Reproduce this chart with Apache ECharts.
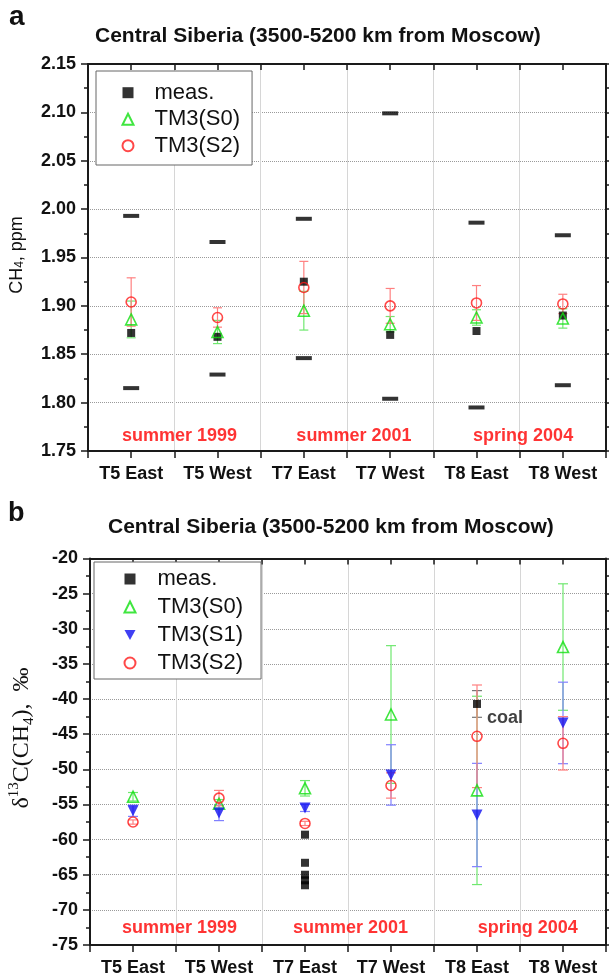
<!DOCTYPE html>
<html><head><meta charset="utf-8">
<script src="https://cdn.jsdelivr.net/npm/echarts@6/dist/echarts.min.js"></script>
<style>html,body{margin:0;padding:0;background:#fff}#c{width:609px;height:979px}</style>
</head><body><div id="c"></div>
<script>
// ---------- data ----------
const categories = ['T5 East', 'T5 West', 'T7 East', 'T7 West', 'T8 East', 'T8 West'];
const seasons = ['summer 1999', 'summer 2001', 'spring 2004'];
const seasonXa = [1.56, 3.58, 5.54];
const seasonYa = 1.7653;
const seasonXb = [1.54, 3.53, 5.59];
const seasonYb = -72.6;
const titleText = 'Central Siberia (3500-5200 km from Moscow)';

// panel a: CH4, ppm
const ch4Ticks = { min: 1.75, max: 2.15, interval: 0.05 };
const ch4Meas = [1.872, 1.868, 1.925, 1.870, 1.874, 1.890];
const ch4S0 = [1.886, 1.873, 1.895, 1.881, 1.888, 1.887];
const ch4S0Err = [0.019, 0.012, 0.020, 0.008, 0.008, 0.010];
const ch4S2 = [1.904, 1.888, 1.919, 1.900, 1.903, 1.902];
const ch4S2Err = [0.025, 0.010, 0.027, 0.018, 0.018, 0.010];
const ch4Max = [1.993, 1.966, 1.990, 2.099, 1.986, 1.973];
const ch4Min = [1.815, 1.829, 1.846, 1.804, 1.795, 1.818];

// panel b: d13C(CH4), permil
const d13Ticks = { min: -75, max: -20, interval: 5 };
const d13MeasCat = [3, 3, 3, 3, 3, 5];
const d13MeasVal = [-59.3, -63.3, -65.0, -65.8, -66.5, -40.7];
const d13MeasErr = [0, 0, 0, 0, 0, 1.9];
const d13S0 = [-53.9, -54.9, -52.7, -42.2, -53.0, -32.6];
const d13S0Err = [0.6, 0.6, 1.1, 9.8, 13.4, 9.0];
const d13S1 = [-55.9, -56.2, -55.5, -50.8, -56.5, -43.4];
const d13S1Err = [0.8, 1.1, 0.5, 4.3, 7.35, 5.8];
const d13S2 = [-57.5, -54.1, -57.7, -52.3, -45.3, -46.3];
const d13S2Err = [0.3, 1.1, 0.3, 1.8, 7.3, 3.8];

// ---------- styling ----------
const FONT = '"Liberation Sans", Arial, Helvetica, sans-serif';
const SERIF = '"Liberation Serif", "Times New Roman", serif';
const AX = '#1a1a1a';
const GREEN = '#10e010', RED = '#ff1a1a', BLUE = '#1010f0';
const GREEN_E = '#70e870', RED_E = '#ff8080', BLUE_E = '#8080ff', BLACK_E = '#777';
const INV_TRI = 'path://M0,0L10,0L5,9Z';

function xAxes(gi) {
  const base = { gridIndex: gi, type: 'value', min: 0.5, max: 6.5 };
  return [
    Object.assign({}, base, {
      position: 'bottom', interval: 0.5,
      axisLine: { show: true, onZero: false, lineStyle: { color: AX, width: 2 } },
      axisTick: { show: true, inside: false, length: 7, lineStyle: { color: AX, width: 1.5 } },
      axisLabel: {
        show: true, margin: 14, color: '#111', fontFamily: FONT, fontWeight: 'bold', fontSize: 18,
        formatter: v => Number.isInteger(v) ? categories[v - 1] : ''
      },
      splitLine: { show: false }
    }),
    Object.assign({}, base, {
      position: 'top', interval: 0.5,
      axisLine: { show: true, onZero: false, lineStyle: { color: AX, width: 2 } },
      axisTick: { show: true, inside: true, length: 6, lineStyle: { color: AX, width: 1.5 } },
      axisLabel: { show: false }, splitLine: { show: false }
    }),
    Object.assign({}, base, {
      position: 'top', interval: 1,
      axisLine: { show: false }, axisTick: { show: false }, axisLabel: { show: false },
      splitLine: { show: true, lineStyle: { color: '#d6d6d6', width: 1, type: 'solid' } }
    })
  ];
}
function yAxes(gi, t, fmt) {
  const base = { gridIndex: gi, type: 'value', min: t.min, max: t.max, interval: t.interval };
  return [
    Object.assign({}, base, {
      position: 'left',
      axisLine: { show: true, onZero: false, lineStyle: { color: AX, width: 2 } },
      axisTick: { show: true, inside: false, length: 7, lineStyle: { color: AX, width: 1.5 } },
      minorTick: { show: true, splitNumber: 2, length: 4, lineStyle: { color: AX, width: 1.5 } },
      axisLabel: { margin: 12, color: '#111', fontFamily: FONT, fontWeight: 'bold', fontSize: 18, formatter: fmt },
      splitLine: { show: true, lineStyle: { color: '#9a9a9a', type: 'dotted', width: 1 } }
    }),
    Object.assign({}, base, {
      position: 'right',
      axisLine: { show: true, onZero: false, lineStyle: { color: AX, width: 2 } },
      axisTick: { show: true, inside: false, length: 7, lineStyle: { color: AX, width: 1.5 } },
      minorTick: { show: true, splitNumber: 2, length: 4, lineStyle: { color: AX, width: 1.5 } },
      axisLabel: { show: false }, splitLine: { show: false }
    })
  ];
}

function pts(vals) { return vals.map((v, i) => [i + 1, v]); }
function errSeries(gi, xs, vals, errs, color, cap) {
  return {
    type: 'custom', xAxisIndex: gi * 3, yAxisIndex: gi * 2, silent: true, z: 1,
    data: vals.map((v, i) => [xs[i], v, errs[i]]),
    encode: { x: 0, y: 1 },
    renderItem: (params, api) => {
      const x = api.value(0), y = api.value(1), e = api.value(2);
      if (!e) return null;
      const a = api.coord([x, y + e]), b = api.coord([x, y - e]);
      const st = { stroke: color, lineWidth: 1.2 };
      return {
        type: 'group', children: [
          { type: 'line', shape: { x1: a[0], y1: a[1], x2: b[0], y2: b[1] }, style: st },
          { type: 'line', shape: { x1: a[0] - cap, y1: a[1], x2: a[0] + cap, y2: a[1] }, style: st },
          { type: 'line', shape: { x1: b[0] - cap, y1: b[1], x2: b[0] + cap, y2: b[1] }, style: st }
        ]
      };
    }
  };
}
function scat(gi, name, data, symbol, size, style, extra) {
  return Object.assign({
    type: 'scatter', name: name, xAxisIndex: gi * 3, yAxisIndex: gi * 2, z: 3,
    symbol: symbol, symbolSize: size, data: data, itemStyle: style,
    emphasis: { disabled: true }, animation: false
  }, extra || {});
}
function seasonSeries(gi, xs, y) {
  return {
    type: 'scatter', xAxisIndex: gi * 3, yAxisIndex: gi * 2, symbolSize: 0, silent: true, z: 4,
    data: seasons.map((s, i) => ({ name: s, value: [xs[i], y] })),
    label: { show: true, position: 'inside', formatter: p => p.name, color: '#ff0000',
      fontFamily: FONT, fontWeight: 'bold', fontSize: 18 }
  };
}
const hollow = c => ({ color: 'transparent', borderColor: c, borderWidth: 1.6 });

const series = [
  // panel a
  errSeries(0, [1, 2, 3, 4, 5, 6], ch4S0, ch4S0Err, GREEN_E, 4.5),
  errSeries(0, [1, 2, 3, 4, 5, 6], ch4S2, ch4S2Err, RED_E, 4.5),
  scat(0, 'range', pts(ch4Max), 'rect', [16, 4], { color: '#000' }, { z: 2, silent: true }),
  scat(0, 'range', pts(ch4Min), 'rect', [16, 4], { color: '#000' }, { z: 2, silent: true }),
  scat(0, 'meas.', pts(ch4Meas), 'rect', 8, { color: '#000' }),
  scat(0, 'TM3(S0)', pts(ch4S0), 'triangle', 11, hollow(GREEN)),
  scat(0, 'TM3(S2)', pts(ch4S2), 'circle', 10, hollow(RED)),
  seasonSeries(0, seasonXa, seasonYa),
  // panel b
  errSeries(1, d13MeasCat, d13MeasVal, d13MeasErr, BLACK_E, 5),
  errSeries(1, [1, 2, 3, 4, 5, 6], d13S0, d13S0Err, GREEN_E, 5),
  errSeries(1, [1, 2, 3, 4, 5, 6], d13S1, d13S1Err, BLUE_E, 5),
  errSeries(1, [1, 2, 3, 4, 5, 6], d13S2, d13S2Err, RED_E, 5),
  scat(1, 'meas.', d13MeasVal.map((v, i) => {
    const item = { value: [d13MeasCat[i], v] };
    if (d13MeasErr[i] > 0) item.label = { show: true, formatter: 'coal', position: 'right', distance: 6,
      offset: [0, 14], color: '#111', fontFamily: FONT, fontWeight: 'bold', fontSize: 18 };
    return item;
  }), 'rect', 8, { color: '#000' }),
  scat(1, 'TM3(S0)', pts(d13S0), 'triangle', 11, hollow(GREEN)),
  scat(1, 'TM3(S1)', pts(d13S1), INV_TRI, 11, { color: BLUE }),
  scat(1, 'TM3(S2)', pts(d13S2), 'circle', 10, hollow(RED)),
  seasonSeries(1, seasonXb, seasonYb)
];

const chart = echarts.init(document.getElementById('c'), null, { renderer: 'canvas' });
chart.setOption({
  animation: false,
  backgroundColor: '#fff',
  title: [
    { text: 'a', left: 9, top: 3, padding: 0, textStyle: { fontSize: 28, fontWeight: 'bold', fontFamily: FONT, color: '#111' } },
    { text: titleText, left: 95, top: 26, padding: 0, textStyle: { fontSize: 21, fontWeight: 'bold', fontFamily: FONT, color: '#111' } },
    { text: 'b', left: 8, top: 500, padding: 0, textStyle: { fontSize: 27, fontWeight: 'bold', fontFamily: FONT, color: '#111' } },
    { text: titleText, left: 108, top: 517, padding: 0, textStyle: { fontSize: 21, fontWeight: 'bold', fontFamily: FONT, color: '#111' } }
  ],
  grid: [
    { left: 88, right: 1, top: 64, height: 387, containLabel: false },
    { left: 90, right: 2, top: 558.5, height: 386.5, containLabel: false }
  ],
  xAxis: xAxes(0).concat(xAxes(1)),
  yAxis: yAxes(0, ch4Ticks, v => v.toFixed(2)).concat(yAxes(1, d13Ticks, v => String(Math.round(v)))),
  legend: [
    { data: ['meas.', 'TM3(S0)', 'TM3(S2)'], orient: 'vertical', left: 96, top: 71,
      padding: [10.7, 12, 8.3, 25.5], itemGap: 4.5, itemWidth: 11, itemHeight: 11,
      borderColor: '#666', borderWidth: 1, backgroundColor: '#fff', selectedMode: false,
      textStyle: { fontSize: 22, fontFamily: FONT, color: '#111', lineHeight: 22, padding: [0, 0, 0, 16] }, z: 10 },
    { data: ['meas.', 'TM3(S0)', 'TM3(S1)', 'TM3(S2)'], orient: 'vertical', left: 94, top: 562,
      padding: [6, 18, 5, 29.5], itemGap: 6, itemWidth: 11, itemHeight: 11,
      borderColor: '#666', borderWidth: 1, backgroundColor: '#fff', selectedMode: false,
      textStyle: { fontSize: 22, fontFamily: FONT, color: '#111', lineHeight: 22, padding: [0, 0, 0, 17] }, z: 10 }
  ],
  graphic: [
    { type: 'text', x: 17, y: 255, rotation: Math.PI / 2,
      style: { text: 'CH{sub|4}, ppm', align: 'center', verticalAlign: 'middle',
        font: '18px ' + FONT, fill: '#111',
        rich: { sub: { fontSize: 12, fontFamily: FONT, verticalAlign: 'bottom', fill: '#111' } } } },
    { type: 'text', x: 22, y: 738, rotation: Math.PI / 2,
      style: { text: 'δ{sup|13}C(CH{sub|4}),  ‰', align: 'center', verticalAlign: 'middle',
        font: '24px ' + SERIF, fill: '#111', lineHeight: 30,
        rich: {
          sup: { fontSize: 15, fontFamily: SERIF, verticalAlign: 'top', fill: '#111' },
          sub: { fontSize: 15, fontFamily: SERIF, verticalAlign: 'bottom', fill: '#111' }
        } } }
  ],
  series: series
});
</script>
</body></html>
